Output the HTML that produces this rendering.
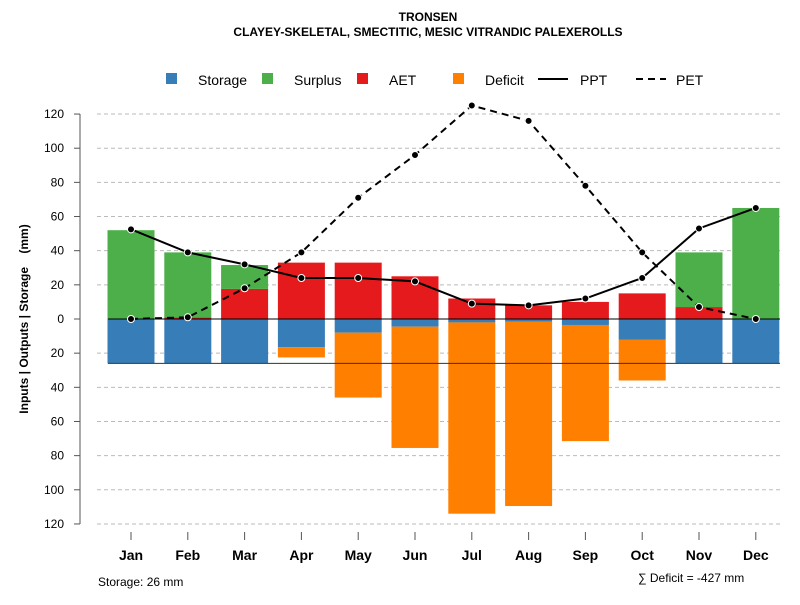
<!DOCTYPE html>
<html><head><meta charset="utf-8"><style>
body{margin:0;background:#fff;}
svg text{font-family:"Liberation Sans",Arial,sans-serif;}
</style></head><body>
<svg id="chart" width="800" height="600" xmlns="http://www.w3.org/2000/svg">
<text x="428" y="21" text-anchor="middle" font-size="12" font-weight="bold">TRONSEN</text>
<text x="428" y="36" text-anchor="middle" font-size="12" font-weight="bold">CLAYEY-SKELETAL, SMECTITIC, MESIC VITRANDIC PALEXEROLLS</text>
<g id="legend" font-size="14">
<rect x="166" y="73" width="11" height="11" fill="#377eb8"/><text x="198" y="85">Storage</text>
<rect x="262" y="73" width="11" height="11" fill="#4daf4a"/><text x="294" y="85">Surplus</text>
<rect x="357" y="73" width="11" height="11" fill="#e41a1c"/><text x="389" y="85">AET</text>
<rect x="453" y="73" width="11" height="11" fill="#ff7f00"/><text x="485" y="85">Deficit</text>
<line x1="538" y1="79" x2="568" y2="79" stroke="#000" stroke-width="2"/><text x="580" y="85">PPT</text>
<line x1="636" y1="79" x2="666" y2="79" stroke="#000" stroke-width="2" stroke-dasharray="7,5"/><text x="676" y="85">PET</text>
</g>
<text transform="translate(28,319) rotate(-90)" text-anchor="middle" font-size="12" font-weight="bold">Inputs | Outputs | Storage&#160;&#160;&#160;&#160;(mm)</text>
<text x="98" y="586" font-size="12">Storage: 26 mm</text>
<text x="638" y="582" font-size="12">∑ Deficit = -427 mm</text>
<g id="plot"></g>
</svg>
<script>
const months=["Jan","Feb","Mar","Apr","May","Jun","Jul","Aug","Sep","Oct","Nov","Dec"];
const surplus=[52,38,14,0,0,0,0,0,0,0,32,65];
const aet=[0,1,17.6,33,33,25,12,8,10,15,7,0];
const storage=[26,26,26,16.5,8,4.5,2,1.5,3.5,12,26,26];
const deficit=[0,0,0,6,38,71,112,108,68,24,0,0];
const ppt=[52.5,39,32,24,24,22,9,8,12,24,53,65];
const pet=[0,1,18,39,71,96,125,116,78,39,7,0];
const yTicks=[120,100,80,60,40,20,0,20,40,60,80,100,120];
const yTickVals=[120,100,80,60,40,20,0,-20,-40,-60,-80,-100,-120];
const NS="http://www.w3.org/2000/svg";
const g=document.getElementById('plot');
function X(i){return 131+i*56.8;}
function Y(v){return 319-v*1.708;}
function mk(t,a){const e=document.createElementNS(NS,t);for(const k in a)e.setAttribute(k,a[k]);g.appendChild(e);return e;}
yTickVals.forEach((v,i)=>{
 if(v!==0){const l=mk('line',{x1:97,x2:780,y1:Y(v),y2:Y(v),stroke:'#bbb','stroke-dasharray':'4,3'});
 
 }
 const t=mk('line',{x1:74,x2:80,y1:Y(v),y2:Y(v),stroke:'#555'});
 
 
 const tx=mk('text',{x:64,y:Y(v)+4,'text-anchor':'end','font-size':12});
 tx.textContent=yTicks[i];
 
 
});
const ax=mk('line',{x1:80,x2:80,y1:Y(120),y2:Y(-120),stroke:'#555'});


const bw=47;
months.forEach((m,i)=>{
 const x=X(i)-bw/2;
 function bar(v0,v1,c,n){if(v1===v0)return;const r=mk('rect',{x:x,width:bw,y:Math.min(Y(v0),Y(v1)),height:Math.abs(Y(v1)-Y(v0)),fill:c});
 
 }
 bar(0,aet[i],'#e41a1c','aet-bar-'+m.toLowerCase());
 bar(aet[i],aet[i]+surplus[i],'#4daf4a','surplus-bar-'+m.toLowerCase());
 bar(0,-storage[i],'#377eb8','storage-bar-'+m.toLowerCase());
 bar(-storage[i],-storage[i]-deficit[i],'#ff7f00','deficit-bar-'+m.toLowerCase());
 const t=mk('line',{x1:X(i),x2:X(i),y1:532,y2:540,stroke:'#555'});
 
 
 const tx=mk('text',{x:X(i),y:560,'text-anchor':'middle','font-size':14,'font-weight':'bold'});
 tx.textContent=m;
 
 
});
const z=mk('line',{x1:108,x2:780,y1:Y(0),y2:Y(0),stroke:'#000'});


const sl=mk('line',{x1:108,x2:780,y1:Y(-26),y2:Y(-26),stroke:'#333'});


function series(arr,dash,n){
 const p=mk('polyline',{points:arr.map((v,i)=>X(i)+','+Y(v)).join(' '),fill:'none',stroke:'#000','stroke-width':2,'stroke-dasharray':dash});
 
 
 arr.forEach((v,i)=>{const c=mk('circle',{cx:X(i),cy:Y(v),r:3.5,fill:'#000',stroke:'#fff','stroke-width':1});
 
 });
}
series(pet,'7,5','pet');
series(ppt,'none','ppt');
</script>
</body></html>
